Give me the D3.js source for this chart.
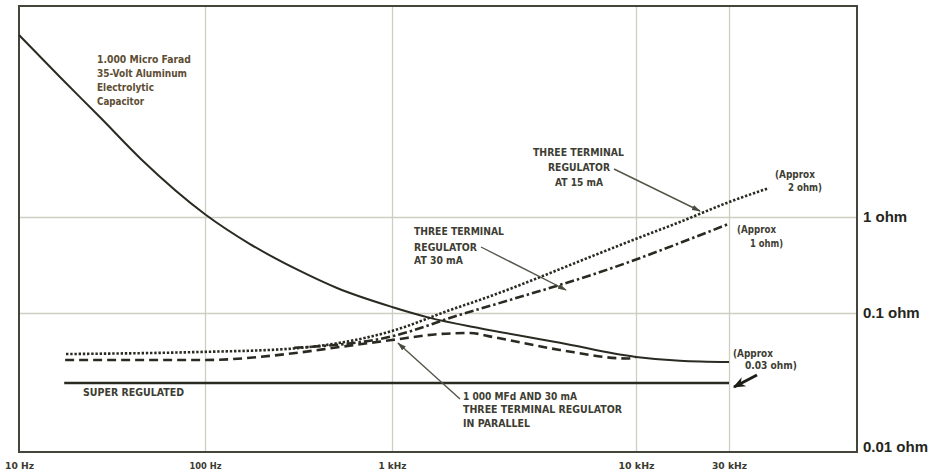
<!DOCTYPE html>
<html>
<head>
<meta charset="utf-8">
<script src="https://cdn.jsdelivr.net/npm/d3@7"></script>
<style>
  html, body { margin: 0; padding: 0; background: #ffffff; }
  svg { display: block; }
  .note { font-family: "DejaVu Sans Condensed", "Liberation Sans Narrow", "Liberation Sans", sans-serif; font-weight: bold; }
</style>
</head>
<body>
<svg id="chart" width="942" height="473"></svg>
<script>
// Frequency axis (Hz) and impedance axis (ohm)
const freqTicks = [10, 100, 1000, 10000, 30000];
const freqLabels = ["10 Hz", "100 Hz", "1 kHz", "10 kHz", "30 kHz"];
const ohmTicks = [0.01, 0.1, 1];
const ohmLabels = ["0.01 ohm", "0.1 ohm", "1 ohm"];

// 1,000 uF 35 V aluminium electrolytic capacitor
const capFreq = [10, 16.6, 27.2, 45.8, 100, 174, 322, 508, 1000, 1430, 2290, 4880, 10000, 16800, 30000];
const capOhm  = [78.7, 28.7, 11.0, 3.93, 1.07, 0.523, 0.274, 0.182, 0.1155, 0.092, 0.077, 0.060, 0.047, 0.044, 0.043];

// Super regulated supply
const superFreq = [17.5, 30000];
const superOhm  = [0.03, 0.03];

// Three terminal regulator at 15 mA
const reg15Freq = [17.9, 94, 274, 1000, 1778, 2293, 7130, 9720, 16800, 30000, 48000];
const reg15Ohm  = [0.0494, 0.0512, 0.0539, 0.0734, 0.110, 0.137, 0.422, 0.576, 0.887, 1.43, 2.0];

// Three terminal regulator at 30 mA
const reg30Freq = [300, 1000, 1900, 3050, 7130, 30000];
const reg30Ohm  = [0.055, 0.067, 0.097, 0.137, 0.267, 0.85];

// 1,000 uF and 30 mA regulator in parallel
const parFreq = [17.7, 100, 274, 527, 1000, 1573, 2088, 2594, 4878, 9186, 10000];
const parOhm  = [0.0446, 0.0446, 0.0494, 0.0558, 0.0629, 0.0697, 0.0709, 0.0662, 0.053, 0.0458, 0.047];

const svg = d3.select("#chart");
const plotL = 19, plotR = 857, plotT = 6, plotB = 452;

// Piecewise log scales following the printed graticule
const x = d3.scaleLog().domain(freqTicks).range([19, 205, 392, 636, 729]);
const y = d3.scaleLog().domain(ohmTicks).range([447, 313, 217]);

const ink = "#2b2a22";
const gridCol = "#cdcdc2";

// Grid
const gx = svg.append("g").attr("transform", `translate(0,${plotB})`)
  .call(d3.axisBottom(x).tickValues(freqTicks.slice(1)).tickFormat("").tickSize(-(plotB - plotT)));
gx.select(".domain").remove();
gx.selectAll("line").attr("stroke", gridCol).attr("stroke-width", 1.3);

const gy = svg.append("g").attr("transform", `translate(${plotL},0)`)
  .call(d3.axisLeft(y).tickValues(ohmTicks.slice(1)).tickFormat("").tickSize(-(plotR - plotL)));
gy.select(".domain").remove();
gy.selectAll("line").attr("stroke", gridCol).attr("stroke-width", 1.3);

// Frame
svg.append("rect").attr("x", plotL).attr("y", plotT)
  .attr("width", plotR - plotL).attr("height", plotB - plotT)
  .attr("fill", "none").attr("stroke", "#45453a").attr("stroke-width", 2);

// Axis labels
const ax = svg.append("g").attr("transform", `translate(0,${plotB})`)
  .call(d3.axisBottom(x).tickValues(freqTicks).tickFormat((d, i) => freqLabels[i]).tickSize(0).tickPadding(10));
ax.select(".domain").remove();
const xw = [29, 32, 28, 36, 35];
ax.selectAll("text")
  .attr("class", "note").attr("font-size", 9.5).attr("fill", "#3a3a30")
  .attr("textLength", (d, i) => xw[i]).attr("lengthAdjust", "spacingAndGlyphs");

const ay = svg.append("g").attr("transform", `translate(${plotR},0)`)
  .call(d3.axisRight(y).tickValues(ohmTicks).tickFormat((d, i) => ohmLabels[i]).tickSize(0).tickPadding(6));
ay.select(".domain").remove();
ay.selectAll("text")
  .attr("font-family", "'Liberation Sans', Arial, sans-serif")
  .attr("font-weight", "bold").attr("font-size", 15).attr("fill", "#262620");

// Curves
const line = d3.line().x(d => x(d[0])).y(d => y(d[1])).curve(d3.curveMonotoneX);
const series = [
  { f: capFreq,   v: capOhm,   w: 2.0, dash: null },
  { f: superFreq, v: superOhm, w: 2.4, dash: null },
  { f: reg15Freq, v: reg15Ohm, w: 2.6, dash: "2.4,1.8" },
  { f: reg30Freq, v: reg30Ohm, w: 2.6, dash: "9,3,2.5,3" },
  { f: parFreq,   v: parOhm,   w: 2.6, dash: "9,5" }
];
svg.append("g").selectAll("path").data(series).join("path")
  .attr("d", s => line(d3.zip(s.f, s.v)))
  .attr("fill", "none").attr("stroke", ink)
  .attr("stroke-width", s => s.w)
  .attr("stroke-dasharray", s => s.dash);

// Leader arrows
const defs = svg.append("defs");
defs.append("marker").attr("id", "head").attr("viewBox", "0 0 10 6")
  .attr("refX", 9).attr("refY", 3).attr("markerWidth", 9).attr("markerHeight", 6)
  .attr("markerUnits", "userSpaceOnUse").attr("orient", "auto")
  .append("path").attr("d", "M0,0 L10,3 L0,6 Z").attr("fill", "#4a4a40");
defs.append("marker").attr("id", "bighead").attr("viewBox", "0 0 10 8")
  .attr("refX", 9).attr("refY", 4).attr("markerWidth", 14).attr("markerHeight", 10)
  .attr("markerUnits", "userSpaceOnUse").attr("orient", "auto")
  .append("path").attr("d", "M0,0 L10,4 L0,8 L3,4 Z").attr("fill", "#1e1e18");

const leaders = [
  { x1: 614, y1: 169, x2: 700, y2: 211, m: "head", w: 1.4 },
  { x1: 481, y1: 247, x2: 566, y2: 290, m: "head", w: 1.4 },
  { x1: 460, y1: 399, x2: 398, y2: 343, m: "head", w: 1.4 },
  { x1: 757, y1: 375, x2: 734, y2: 387, m: "bighead", w: 3 }
];
svg.append("g").selectAll("line").data(leaders).join("line")
  .attr("x1", d => d.x1).attr("y1", d => d.y1).attr("x2", d => d.x2).attr("y2", d => d.y2)
  .attr("stroke", d => d.m === "bighead" ? "#1e1e18" : "#55554a")
  .attr("stroke-width", d => d.w)
  .attr("marker-end", d => `url(#${d.m})`);

// Annotations
const notes = [
  { x: 97,  y: 63,  t: "1.000 Micro Farad", w: 94, c: "#5d4e34" },
  { x: 97,  y: 77,  t: "35-Volt Aluminum", w: 90, c: "#5d4e34" },
  { x: 97,  y: 91,  t: "Electrolytic", w: 57, c: "#5d4e34" },
  { x: 97,  y: 105, t: "Capacitor", w: 47, c: "#5d4e34" },
  { x: 533, y: 156, t: "THREE TERMINAL", w: 91 },
  { x: 548, y: 171, t: "REGULATOR", w: 62 },
  { x: 555, y: 186, t: "AT 15 mA", w: 48 },
  { x: 414, y: 235, t: "THREE TERMINAL", w: 90 },
  { x: 414, y: 251, t: "REGULATOR", w: 63 },
  { x: 414, y: 264, t: "AT 30 mA", w: 49 },
  { x: 775, y: 178, t: "(Approx", w: 40 },
  { x: 788, y: 191, t: "2 ohm)", w: 34 },
  { x: 737, y: 233, t: "(Approx", w: 39 },
  { x: 750, y: 247, t: "1 ohm)", w: 33 },
  { x: 733, y: 357, t: "(Approx", w: 40 },
  { x: 745, y: 369, t: "0.03 ohm)", w: 52 },
  { x: 83,  y: 396, t: "SUPER REGULATED", w: 101 },
  { x: 463, y: 400, t: "1 000 MFd AND 30 mA", w: 114 },
  { x: 463, y: 413, t: "THREE TERMINAL REGULATOR", w: 159 },
  { x: 463, y: 427, t: "IN PARALLEL", w: 67 }
];
svg.append("g").selectAll("text").data(notes).join("text")
  .attr("class", "note")
  .attr("x", d => d.x).attr("y", d => d.y)
  .attr("font-size", 11)
  .attr("fill", d => d.c || "#3d3d33")
  .attr("textLength", d => d.w).attr("lengthAdjust", "spacingAndGlyphs")
  .text(d => d.t);
</script>
</body>
</html>
